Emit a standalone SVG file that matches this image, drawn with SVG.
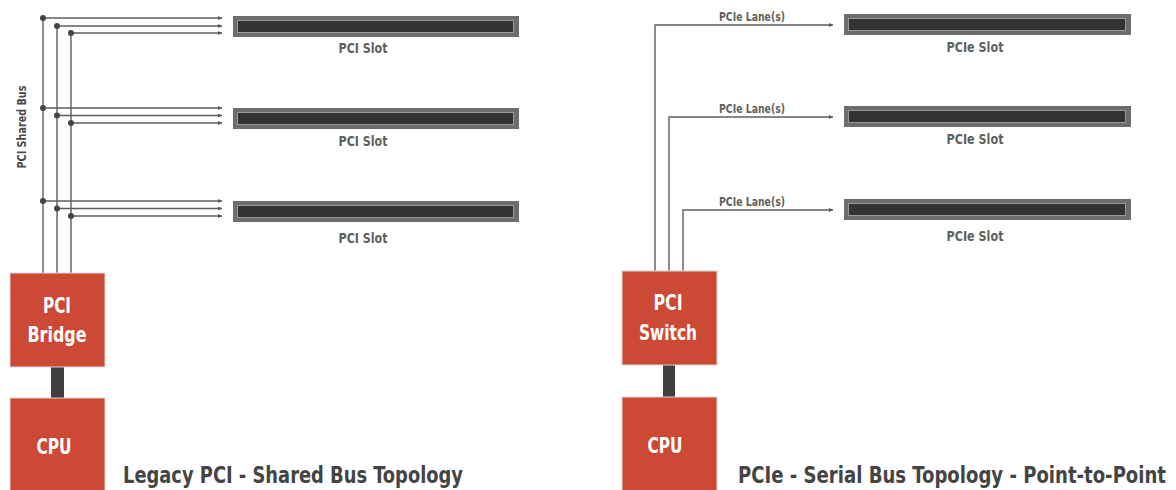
<svg xmlns="http://www.w3.org/2000/svg" width="1176" height="490" viewBox="0 0 1176 490">
<defs>
<marker id="arr" viewBox="0 0 6 6" refX="6" refY="3" markerWidth="4" markerHeight="4" orient="auto" markerUnits="userSpaceOnUse">
<path d="M0,0 L6,3 L0,6 z" fill="#555"/>
</marker>
<style>
.bus{stroke:#5e5e5e;stroke-width:1.4;fill:none}
.dot{fill:#444}
.slotO{fill:#6d6d6d}
.slotI{fill:#333;stroke:#9a9a9a;stroke-width:1}
.lbl{font-family:"DejaVu Sans Condensed","DejaVu Sans",sans-serif;font-weight:bold;fill:#5f5f5f;text-anchor:middle}
.box{fill:#cc4a35;stroke:#d8d8d8;stroke-width:1}
.btxt{font-family:"DejaVu Sans Condensed","DejaVu Sans",sans-serif;font-weight:bold;fill:#fff;font-size:22px;text-anchor:middle}
.link{fill:#404040}
.title{font-family:"DejaVu Sans Condensed","DejaVu Sans",sans-serif;font-weight:bold;fill:#444;font-size:20px}
</style>
</defs>
<rect width="1176" height="490" fill="#fff"/>

<g id="connectors">
<path class="bus" d="M43,18 V273 M57,26 V273 M71,33 V273"/>
<g marker-end="url(#arr)" class="bus">
<line x1="43" y1="18" x2="222" y2="18"/>
<line x1="57" y1="26" x2="222" y2="26"/>
<line x1="71" y1="33" x2="222" y2="33"/>
<line x1="43" y1="108" x2="222" y2="108"/>
<line x1="57" y1="115.5" x2="222" y2="115.5"/>
<line x1="71" y1="123" x2="222" y2="123"/>
<line x1="43" y1="201" x2="222" y2="201"/>
<line x1="57" y1="208.5" x2="222" y2="208.5"/>
<line x1="71" y1="216" x2="222" y2="216"/>
</g>
<g class="dot">
<circle cx="43" cy="18" r="3"/><circle cx="57" cy="26" r="3"/><circle cx="71" cy="33" r="3"/>
<circle cx="43" cy="108" r="3"/><circle cx="57" cy="115.5" r="3"/><circle cx="71" cy="123" r="3"/>
<circle cx="43" cy="201" r="3"/><circle cx="57" cy="208.5" r="3"/><circle cx="71" cy="216" r="3"/>
</g>
<text class="lbl" font-size="11.5" style="fill:#4a4a4a" transform="translate(26,127) rotate(-90)" textLength="83" lengthAdjust="spacingAndGlyphs">PCI Shared Bus</text>
<g class="bus" marker-end="url(#arr)">
<path d="M655,271 V25 H833"/>
<path d="M669,271 V117 H833"/>
<path d="M683,271 V210 H833"/>
</g>
<text class="lbl" font-size="11.5" x="752" y="21" textLength="66" lengthAdjust="spacingAndGlyphs">PCIe Lane(s)</text>
<text class="lbl" font-size="11.5" x="752" y="113" textLength="66" lengthAdjust="spacingAndGlyphs">PCIe Lane(s)</text>
<text class="lbl" font-size="11.5" x="752" y="206" textLength="66" lengthAdjust="spacingAndGlyphs">PCIe Lane(s)</text>
<rect class="link" x="51" y="367" width="13" height="31"/>
<rect class="link" x="663" y="365" width="12" height="32"/>
</g>

<g id="pci-slot-1">
<rect class="slotO" x="233" y="16" width="286" height="21"/>
<rect class="slotI" x="237.5" y="20.5" width="276" height="12"/>
<text class="lbl" font-size="14" x="363" y="53" textLength="49" lengthAdjust="spacingAndGlyphs">PCI Slot</text>
</g>
<g id="pci-slot-2">
<rect class="slotO" x="233" y="108" width="286" height="21"/>
<rect class="slotI" x="237.5" y="112.5" width="276" height="12"/>
<text class="lbl" font-size="14" x="363" y="146" textLength="49" lengthAdjust="spacingAndGlyphs">PCI Slot</text>
</g>
<g id="pci-slot-3">
<rect class="slotO" x="233" y="201" width="286" height="21"/>
<rect class="slotI" x="237.5" y="205.5" width="276" height="12"/>
<text class="lbl" font-size="14" x="363" y="243" textLength="49" lengthAdjust="spacingAndGlyphs">PCI Slot</text>
</g>

<g id="pcie-slot-1">
<rect class="slotO" x="844" y="14" width="287" height="21"/>
<rect class="slotI" x="848.5" y="18.5" width="277" height="12"/>
<text class="lbl" font-size="14" x="975" y="52" textLength="57" lengthAdjust="spacingAndGlyphs">PCIe Slot</text>
</g>
<g id="pcie-slot-2">
<rect class="slotO" x="844" y="106" width="287" height="21"/>
<rect class="slotI" x="848.5" y="110.5" width="277" height="12"/>
<text class="lbl" font-size="14" x="975" y="144" textLength="57" lengthAdjust="spacingAndGlyphs">PCIe Slot</text>
</g>
<g id="pcie-slot-3">
<rect class="slotO" x="844" y="199" width="287" height="21"/>
<rect class="slotI" x="848.5" y="203.5" width="277" height="12"/>
<text class="lbl" font-size="14" x="975" y="241" textLength="57" lengthAdjust="spacingAndGlyphs">PCIe Slot</text>
</g>

<g id="pci-bridge">
<rect class="box" x="10" y="273" width="95" height="94"/>
<text class="btxt" x="57" y="313" textLength="28" lengthAdjust="spacingAndGlyphs">PCI</text>
<text class="btxt" x="57" y="342" textLength="59" lengthAdjust="spacingAndGlyphs">Bridge</text>
</g>
<g id="cpu-left">
<rect class="box" x="10" y="398" width="95" height="95"/>
<text class="btxt" x="54" y="454" textLength="35" lengthAdjust="spacingAndGlyphs">CPU</text>
</g>
<g id="pci-switch">
<rect class="box" x="622" y="271" width="95" height="94"/>
<text class="btxt" x="668" y="310" textLength="29" lengthAdjust="spacingAndGlyphs">PCI</text>
<text class="btxt" x="668" y="340" textLength="58" lengthAdjust="spacingAndGlyphs">Switch</text>
</g>
<g id="cpu-right">
<rect class="box" x="622" y="397" width="95" height="96"/>
<text class="btxt" x="665" y="453" textLength="35" lengthAdjust="spacingAndGlyphs">CPU</text>
</g>

<text class="title" transform="translate(123,483) scale(1,1.18)" textLength="340" lengthAdjust="spacingAndGlyphs">Legacy PCI - Shared Bus Topology</text>
<text class="title" transform="translate(738,483) scale(1,1.18)" textLength="428" lengthAdjust="spacingAndGlyphs">PCIe - Serial Bus Topology - Point-to-Point</text>
</svg>
